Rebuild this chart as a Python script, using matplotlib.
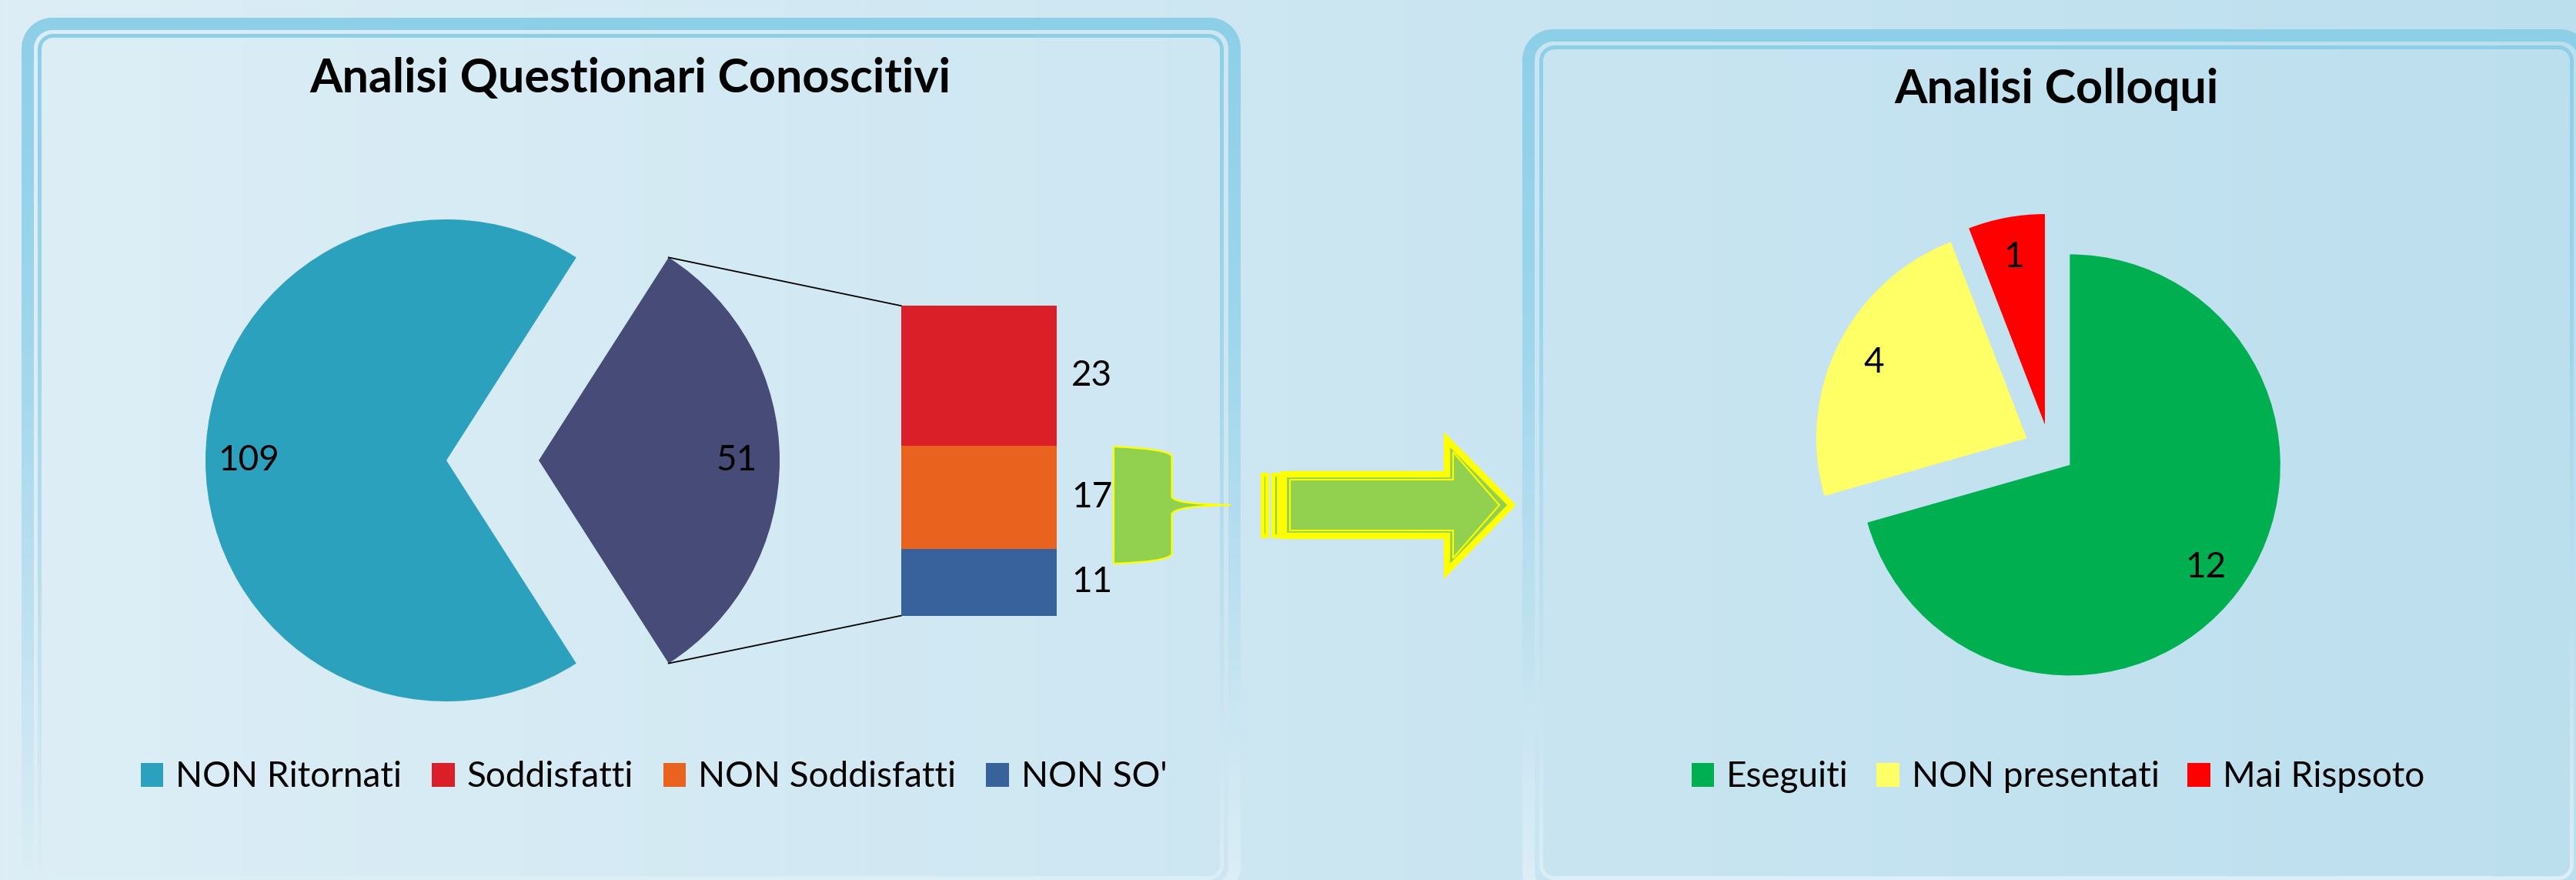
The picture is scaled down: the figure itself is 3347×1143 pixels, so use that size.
import numpy as np
import matplotlib
matplotlib.use("Agg")
import matplotlib.pyplot as plt
from matplotlib.patches import Patch, Polygon, PathPatch, Rectangle
from matplotlib.path import Path
from matplotlib.colors import to_rgb

W, H = 3347, 1143

# --- data -------------------------------------------------------------
q_main_labels = ["NON Ritornati", "Ritornati"]
q_main_values = [109, 51]
q_bar_labels = ["Soddisfatti", "NON Soddisfatti", "NON SO'"]
q_bar_values = [23, 17, 11]
c_labels = ["Eseguiti", "NON presentati", "Mai Rispsoto"]
c_values = [12, 4, 1]

# --- colours ----------------------------------------------------------
Q_MAIN_COLORS = ["#2ca1be", "#474b77"]
Q_BAR_COLORS = ["#da1f28", "#e9621e", "#38629b"]
C_COLORS = ["#00b050", "#ffff66", "#ff0000"]
BG_LEFT, BG_RIGHT = "#ddeef6", "#bcdfee"
LIME, YELLOW = "#92d050", "#ffff00"

plt.rcParams["font.family"] = ["Lato", "DejaVu Sans"]
FS = 33

fig = plt.figure(figsize=(W / 100, H / 100), dpi=100)
ax = fig.add_axes([0, 0, 1, 1])


def yy(y):
    # pixel row (from top) -> data y (from bottom)
    return H - y


# background
t = np.linspace(0, 1, 256)[:, None]
bg = (1 - t) * np.array(to_rgb(BG_LEFT)) + t * np.array(to_rgb(BG_RIGHT))
ax.imshow(bg[None, :, :], extent=(0, W, 0, H), aspect="auto", zorder=0)


def rrect(x0, top, x1, bottom, r, n=24):
    yt, yb = yy(top), yy(bottom)
    pts = []
    for cx, cy, a0 in [(x1 - r, yt - r, 0), (x0 + r, yt - r, 90),
                       (x0 + r, yb + r, 180), (x1 - r, yb + r, 270)]:
        a = np.radians(np.linspace(a0, a0 + 90, n))
        pts.append(np.column_stack([cx + r * np.cos(a), cy + r * np.sin(a)]))
    return np.vstack(pts)


def band(x0, top, x1, bottom, w, r):
    outer = rrect(x0, top, x1, bottom, r)
    inner = rrect(x0 + w, top + w, x1 - w, bottom - w, max(r - w, 2))[::-1]
    verts = np.vstack([outer, outer[:1], inner, inner[:1]])
    codes = ([Path.MOVETO] + [Path.LINETO] * (len(outer) - 1) + [Path.CLOSEPOLY]
             + [Path.MOVETO] + [Path.LINETO] * (len(inner) - 1) + [Path.CLOSEPOLY])
    return Path(verts, codes)


stops = [(0.0, "#8ecfe8"), (0.35, "#9ed6ec"), (0.7, "#bfe1f0"), (1.0, "#dceef6")]
rows = np.linspace(0, 1, 300)
grad = np.column_stack([np.interp(rows, [s for s, _ in stops], [to_rgb(c)[k] for _, c in stops])
                        for k in range(3)])
for x0, top, x1, bottom, w, r in [(28, 23, 1612, 1165, 16, 40), (49, 44, 1590, 1143, 5, 20),
                                  (1978, 38, 3366, 1172, 16, 40), (2000, 59, 3344, 1143, 5, 20)]:
    clip = PathPatch(band(x0, top, x1, bottom, w, r), transform=ax.transData)
    im = ax.imshow(grad[:, None, :], extent=(x0, x1, yy(1143), yy(top)), aspect="auto", zorder=1)
    im.set_clip_path(clip)

# --- pie of bar: Analisi Questionari Conoscitivi -----------------------
# (explode is in data units here, i.e. pixels)
q_total = sum(q_main_values)
wedges, _, q_auto = ax.pie(
    q_main_values, colors=Q_MAIN_COLORS, startangle=180 * q_main_values[1] / q_total,
    explode=[0, 120], radius=313, center=(580, yy(598)), frame=True,
    autopct=lambda p: f"{p * q_total / 100:.0f}", pctdistance=0.82,
    wedgeprops=dict(linewidth=0), textprops=dict(fontsize=FS, color="black"))
for w_ in wedges:
    w_.set_zorder(3)
for a in q_auto:
    a.set_zorder(4)

bx0, btop, bw, bh = 1171, 397.2, 202, 402.4
bax = fig.add_axes([bx0 / W, yy(btop + bh) / H, bw / W, bh / H])
bax.set_xlim(-0.5, 0.5)
bax.set_ylim(0, sum(q_bar_values))
bax.axis("off")
bottom = 0
for lab, v, c in reversed(list(zip(q_bar_labels, q_bar_values, Q_BAR_COLORS))):
    bax.bar(0, v, width=1, bottom=bottom, color=c, linewidth=0)
    bax.text(0.5 + 19 / bw, bottom + v / 2, str(v), ha="left", va="center", fontsize=FS, clip_on=False)
    bottom += v

other = wedges[1]
cx, cy = other.center
for th, by in [(other.theta2, yy(btop)), (other.theta1, yy(btop + bh))]:
    ax.plot([cx + other.r * np.cos(np.radians(th)), bx0], [cy + other.r * np.sin(np.radians(th)), by],
            color="black", lw=1.3, zorder=3)

ax.text(818.7, yy(120), "Analisi Questionari Conoscitivi", ha="center", va="baseline",
        fontsize=44, fontweight="bold", zorder=5)

# --- brace + arrow ----------------------------------------------------
brace = Path(
    [(1447, yy(580)), (1515, yy(583)), (1522.5, yy(592)), (1522.5, yy(645)),
     (1524.5, yy(655)), (1599, yy(656)), (1524.5, yy(657)), (1522.5, yy(668)),
     (1522.5, yy(720)), (1515, yy(730)), (1447, yy(732)), (1447, yy(580))],
    [Path.MOVETO, Path.CURVE3, Path.CURVE3, Path.LINETO, Path.CURVE3, Path.CURVE3,
     Path.CURVE3, Path.CURVE3, Path.LINETO, Path.CURVE3, Path.CURVE3, Path.CLOSEPOLY])
ax.add_patch(PathPatch(brace, facecolor=LIME, edgecolor=YELLOW, lw=1.6, zorder=3))


def arrow_pts(x0, st, sb, hx, ht, hb, tipx, tipy):
    return [(x0, yy(st)), (hx, yy(st)), (hx, yy(ht)), (tipx, yy(tipy)),
            (hx, yy(hb)), (hx, yy(sb)), (x0, yy(sb))]


ax.add_patch(Polygon(arrow_pts(1668, 616, 696, 1880, 571, 742, 1964, 656),
                     closed=True, facecolor=LIME, edgecolor=YELLOW, lw=6, joinstyle="miter", zorder=3))
ax.add_patch(Polygon(arrow_pts(1676, 623, 689, 1888, 587, 725, 1948, 656),
                     closed=True, facecolor="none", edgecolor=YELLOW, lw=1.5, zorder=4))
for sx, sw in [(1640, 6), (1654, 7)]:
    ax.add_patch(Rectangle((sx, yy(696)), sw, 80, facecolor=LIME, edgecolor=YELLOW, lw=3.5, zorder=3))

# --- pie: Analisi Colloqui --------------------------------------------
c_total = sum(c_values)
cw, _, c_auto = ax.pie(
    c_values, colors=C_COLORS, startangle=90, counterclock=False,
    explode=[33] * len(c_values), radius=273.5, center=(2663, yy(584)), frame=True,
    autopct=lambda p: f"{p * c_total / 100:.0f}", pctdistance=0.81,
    wedgeprops=dict(linewidth=0), textprops=dict(fontsize=FS, color="black"))
for w_ in cw:
    w_.set_zorder(3)
for a in c_auto:
    a.set_zorder(4)

ax.text(2671.7, yy(134), "Analisi Colloqui", ha="center", va="baseline",
        fontsize=44, fontweight="bold", zorder=5)

ax.set_xlim(0, W)
ax.set_ylim(0, H)
ax.set_aspect("auto")
ax.axis("off")

# --- legends ----------------------------------------------------------
leg_kw = dict(loc="center", frameon=False, fontsize=FS, handlelength=0.64, handleheight=0.64,
              handletextpad=0.35, borderpad=0, borderaxespad=0)
fig.legend(handles=[Patch(facecolor=c, edgecolor="none", label=l) for l, c in
                    zip([q_main_labels[0]] + q_bar_labels, [Q_MAIN_COLORS[0]] + Q_BAR_COLORS)],
           ncol=4, columnspacing=0.85, bbox_to_anchor=(849.7 / W, yy(1009.5) / H), **leg_kw)
fig.legend(handles=[Patch(facecolor=c, edgecolor="none", label=l) for l, c in zip(c_labels, C_COLORS)],
           ncol=3, columnspacing=0.8, bbox_to_anchor=(2673.8 / W, yy(1009.5) / H), **leg_kw)

fig.savefig("out.png", dpi=100)
